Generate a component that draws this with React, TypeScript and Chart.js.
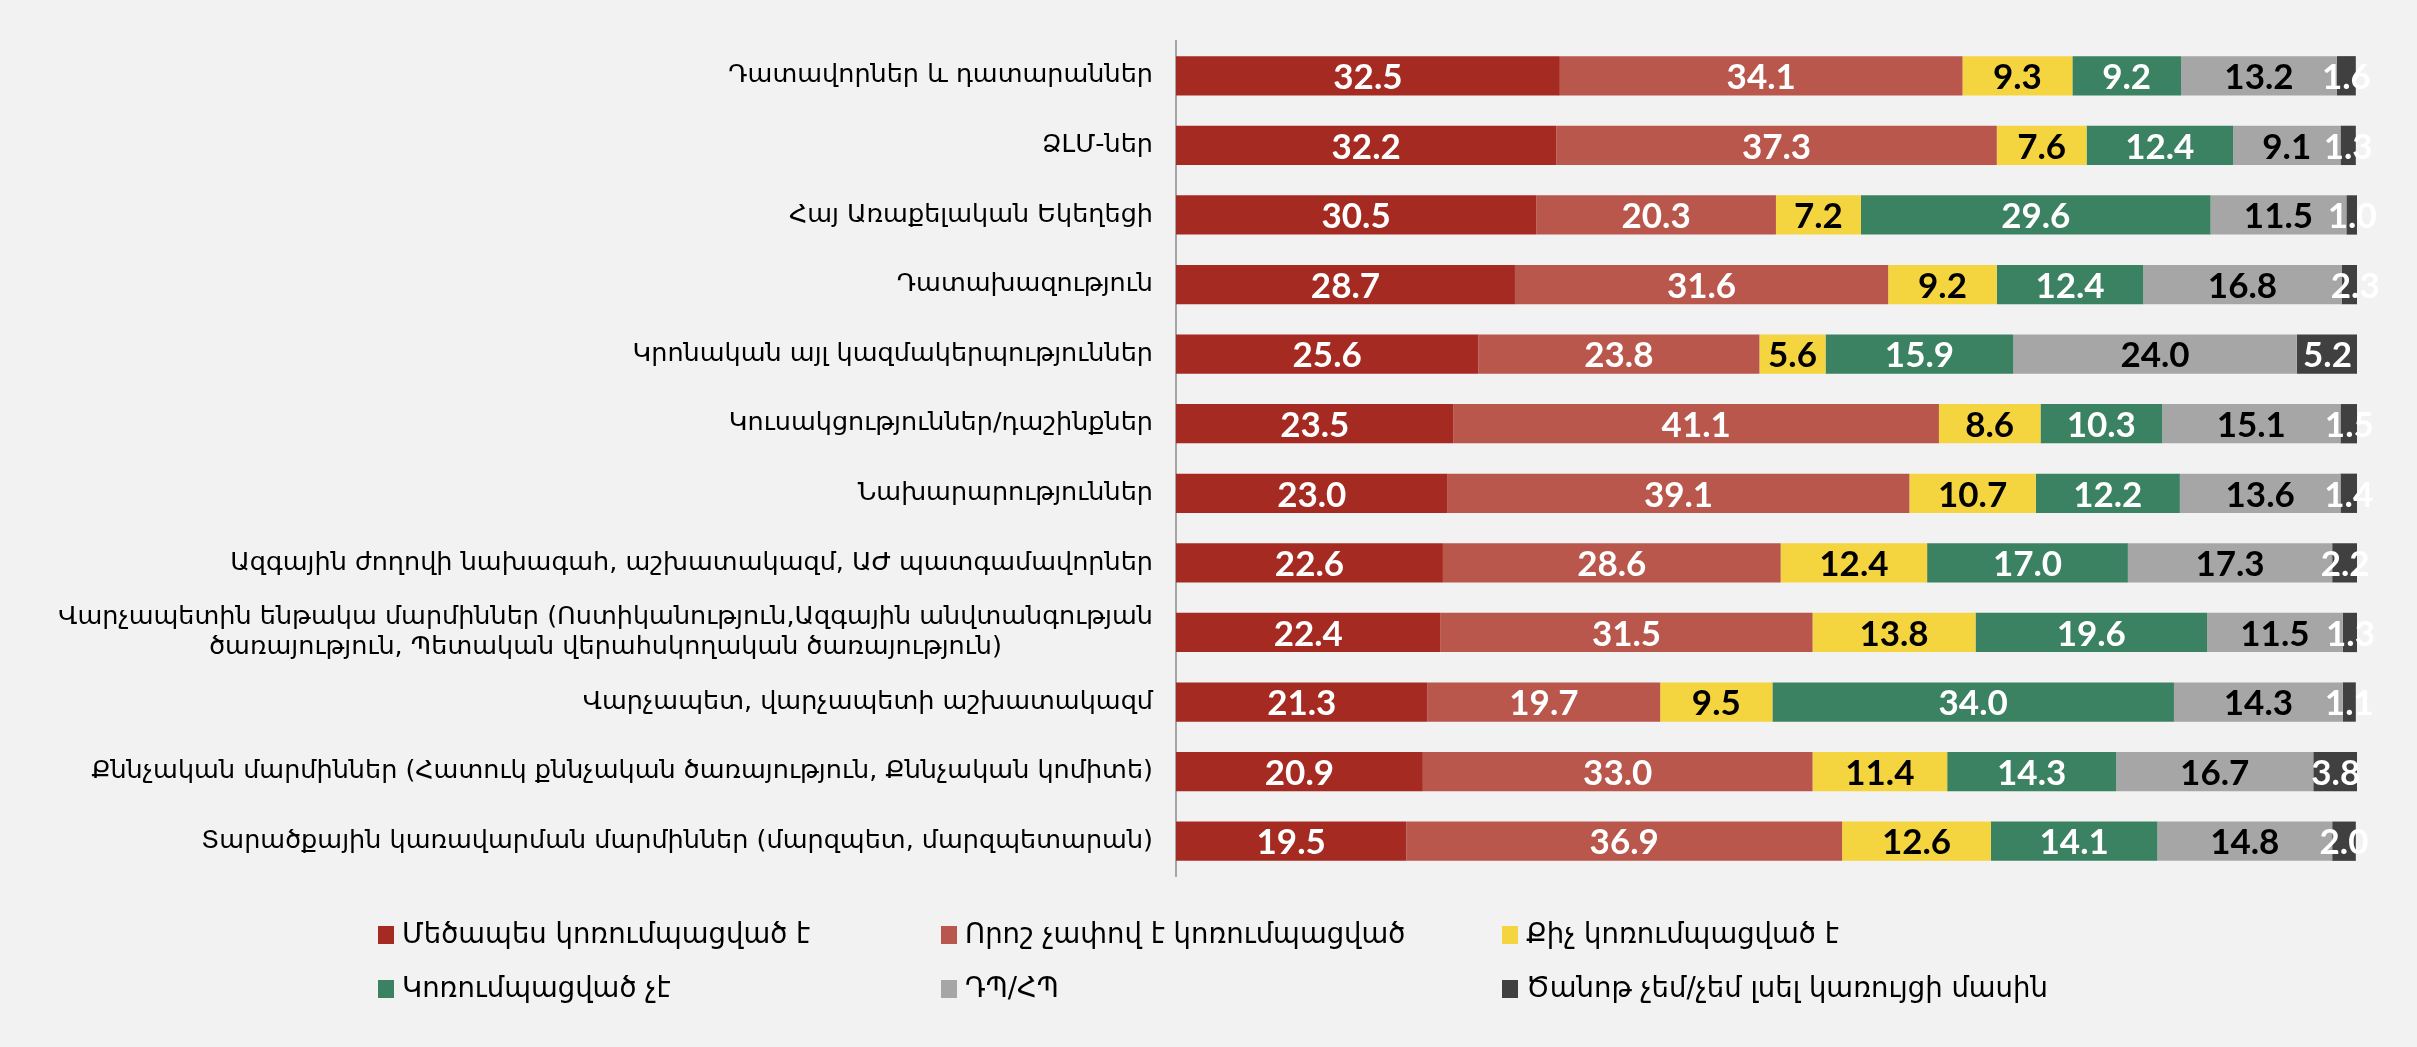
import React, { useEffect, useRef } from 'react';
import { Chart, registerables } from 'chart.js';

Chart.register(...registerables);

const categories: string[][] = [
  ['Դատավորներ և դատարաններ'],
  ['ՁԼՄ-ներ'],
  ['Հայ Առաքելական Եկեղեցի'],
  ['Դատախազություն'],
  ['Կրոնական այլ կազմակերպություններ'],
  ['Կուսակցություններ/դաշինքներ'],
  ['Նախարարություններ'],
  ['Ազգային ժողովի նախագահ, աշխատակազմ, ԱԺ պատգամավորներ'],
  ['Վարչապետին ենթակա մարմիններ (Ոստիկանություն,Ազգային անվտանգության', 'ծառայություն, Պետական վերահսկողական ծառայություն)'],
  ['Վարչապետ, վարչապետի աշխատակազմ'],
  ['Քննչական մարմիններ (Հատուկ քննչական ծառայություն, Քննչական կոմիտե)'],
  ['Տարածքային կառավարման մարմիններ (մարզպետ, մարզպետարան)'],
];

const greatly = [32.5, 32.2, 30.5, 28.7, 25.6, 23.5, 23.0, 22.6, 22.4, 21.3, 20.9, 19.5];
const somewhat = [34.1, 37.3, 20.3, 31.6, 23.8, 41.1, 39.1, 28.6, 31.5, 19.7, 33.0, 36.9];
const little = [9.3, 7.6, 7.2, 9.2, 5.6, 8.6, 10.7, 12.4, 13.8, 9.5, 11.4, 12.6];
const notCorrupt = [9.2, 12.4, 29.6, 12.4, 15.9, 10.3, 12.2, 17.0, 19.6, 34.0, 14.3, 14.1];
const dontKnow = [13.2, 9.1, 11.5, 16.8, 24.0, 15.1, 13.6, 17.3, 11.5, 14.3, 16.7, 14.8];
const neverHeard = [1.6, 1.3, 1.0, 2.3, 5.2, 1.5, 1.4, 2.2, 1.3, 1.1, 3.8, 2.0];

const seriesNames = [
  'Մեծապես կոռումպացված է',
  'Որոշ չափով է կոռումպացված',
  'Քիչ կոռումպացված է',
  'Կոռումպացված չէ',
  'ԴՊ/ՀՊ',
  'Ծանոթ չեմ/չեմ լսել կառույցի մասին',
];
const seriesValues = [greatly, somewhat, little, notCorrupt, dontKnow, neverHeard];
const seriesColors = ['#A52A21', '#BA574D', '#F5D53F', '#3A8262', '#A6A6A6', '#404040'];
const labelColors = ['#FFFFFF', '#FFFFFF', '#000000', '#FFFFFF', '#000000', '#FFFFFF'];

const FONT = '"DejaVu Sans", sans-serif';
const VALUE_FONT = 'bold 35px Lato, "Open Sans", sans-serif';

export default function App() {
  const ref = useRef<HTMLCanvasElement | null>(null);

  useEffect(() => {
    if (!ref.current) return;
    const customPlugin = {
      id: 'custom',
      beforeDraw(chart: any) {
        const ctx = chart.ctx;
        ctx.save();
        ctx.fillStyle = '#F2F2F2';
        ctx.fillRect(0, 0, chart.width, chart.height);
        ctx.restore();
      },
      afterDraw(chart: any) {
        const ctx = chart.ctx;
        const area = chart.chartArea;
        const yScale = chart.scales.y;
        ctx.save();
        // category labels
        ctx.font = '25.5px ' + FONT;
        ctx.fillStyle = '#000000';
        ctx.textBaseline = 'middle';
        const rightEdge = area.left - 23;
        const lineH = 30;
        categories.forEach((lines, i) => {
          const yc = yScale.getPixelForValue(i);
          const widths = lines.map((l) => ctx.measureText(l).width);
          const maxW = Math.max(...widths);
          const cx = rightEdge - maxW / 2;
          ctx.textAlign = 'center';
          lines.forEach((l, j) => {
            const y = yc + (j - (lines.length - 1) / 2) * lineH;
            ctx.fillText(l, cx, y);
          });
        });
        // value labels
        ctx.font = VALUE_FONT;
        ctx.textAlign = 'center';
        ctx.textBaseline = 'middle';
        chart.data.datasets.forEach((ds: any, di: number) => {
          const meta = chart.getDatasetMeta(di);
          meta.data.forEach((el: any, i: number) => {
            const p = el.getProps(['x', 'base', 'y'], true);
            const cx = (p.x + p.base) / 2;
            ctx.fillStyle = labelColors[di];
            ctx.fillText(Number(ds.data[i]).toFixed(1), cx, p.y + 2);
          });
        });
        // legend
        const colX = [378, 941, 1502];
        const rowY = [935, 989];
        ctx.font = '27.5px ' + FONT;
        ctx.textAlign = 'left';
        ctx.textBaseline = 'middle';
        seriesNames.forEach((name, i) => {
          const x = colX[i % 3];
          const y = rowY[Math.floor(i / 3)];
          ctx.fillStyle = seriesColors[i];
          ctx.fillRect(x, y - 9, 16, 18);
          ctx.fillStyle = '#000000';
          ctx.fillText(name, x + 24, y + 1);
        });
        ctx.restore();
      },
    };

    const chart = new Chart(ref.current, {
      type: 'bar',
      data: {
        labels: categories.map((c) => c.join(' ')),
        datasets: seriesNames.map((name, i) => ({
          label: name,
          data: seriesValues[i],
          backgroundColor: seriesColors[i],
          borderWidth: 0,
          barPercentage: 0.565,
          categoryPercentage: 1,
        })),
      },
      options: {
        indexAxis: 'y',
        responsive: false,
        animation: false,
        devicePixelRatio: 1,
        layout: { padding: { top: 41, bottom: 171, right: 60, left: 0 } },
        plugins: {
          legend: { display: false },
          tooltip: { enabled: false },
        },
        scales: {
          x: {
            stacked: true,
            min: 0,
            max: 100,
            display: false,
          },
          y: {
            stacked: true,
            ticks: { display: false },
            grid: { display: false, drawTicks: false },
            border: { display: true, color: '#A6A6A6', width: 2 },
            afterFit: (s: any) => {
              s.width = 1176;
            },
          },
        },
      },
      plugins: [customPlugin],
    } as any);
    return () => chart.destroy();
  }, []);

  return (
    <div style={{ position: 'fixed', left: 0, top: 0, width: 2417, height: 1047, background: '#F2F2F2' }}>
      <canvas ref={ref} width={2417} height={1047} style={{ width: 2417, height: 1047, display: 'block' }} />
    </div>
  );
}
